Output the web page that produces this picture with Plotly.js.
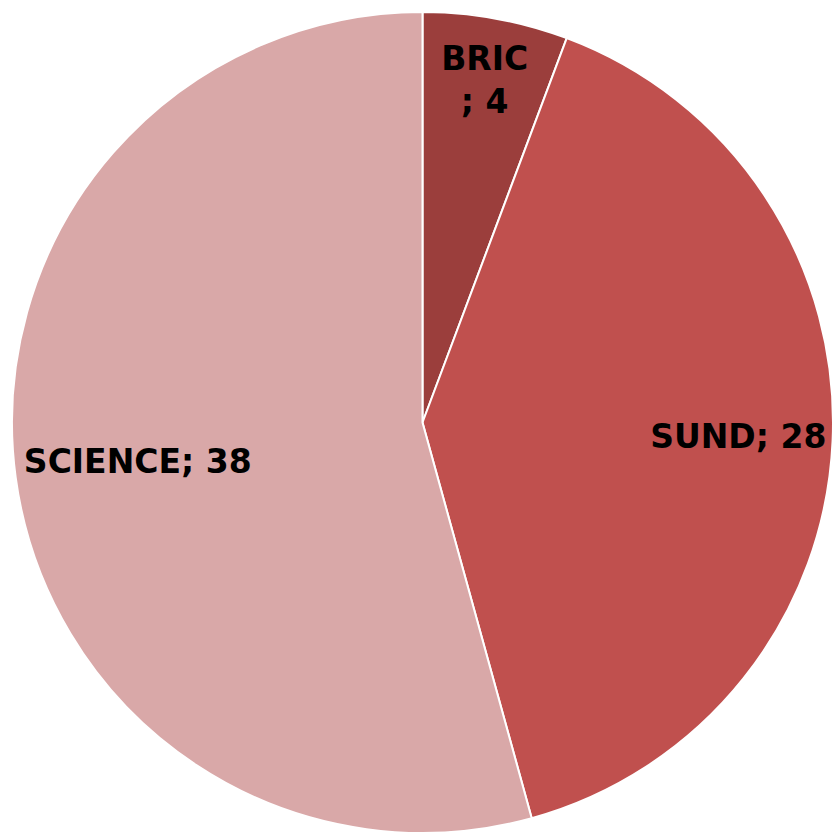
<!DOCTYPE html>
<html>
<head>
<meta charset="utf-8">
<script src="https://cdn.plot.ly/plotly-3.0.1.min.js"></script>
<style>
html,body{margin:0;padding:0;background:#fff;}
#chart{width:834px;height:833px;}
</style>
</head>
<body>
<div id="chart"></div>
<script>
var labels = ["BRIC", "SUND", "SCIENCE"];
var values = [4, 28, 38];
var separators = ["<br>; ", "; ", "; "];
var colors = ["#9b3e3c", "#c0504e", "#d9a8a8"];

var texts = labels.map(function (l, i) { return l + separators[i] + values[i]; });

var font = { family: "DejaVu Sans", size: 33, color: "#000000", weight: "bold" };

var base = {
  type: "pie",
  labels: labels,
  values: values,
  sort: false,
  direction: "clockwise",
  rotation: 0
};

var pieTrace = Object.assign({}, base, {
  textinfo: "none",
  marker: { colors: colors, line: { color: "#ffffff", width: 2 } },
  hoverinfo: "label+value"
});

// transparent ring traces that only carry the data labels (push labels outward)
function labelTrace(hole, showIdx) {
  return Object.assign({}, base, {
    hole: hole,
    text: texts.map(function (t, i) { return showIdx.indexOf(i) >= 0 ? t : ""; }),
    textinfo: "text",
    textposition: "inside",
    insidetextorientation: "horizontal",
    textfont: font,
    marker: { colors: ["rgba(0,0,0,0)", "rgba(0,0,0,0)", "rgba(0,0,0,0)"], line: { width: 0 } },
    hoverinfo: "skip"
  });
}

var layout = {
  width: 834,
  height: 833,
  margin: { l: 11, r: 0, t: 12, b: 0, pad: 0 },
  showlegend: false,
  paper_bgcolor: "#ffffff",
  plot_bgcolor: "#ffffff"
};

Plotly.newPlot("chart", [pieTrace, labelTrace(0.4, [0, 2]), labelTrace(0.54, [1])], layout, { displayModeBar: false, staticPlot: true });
</script>
</body>
</html>
